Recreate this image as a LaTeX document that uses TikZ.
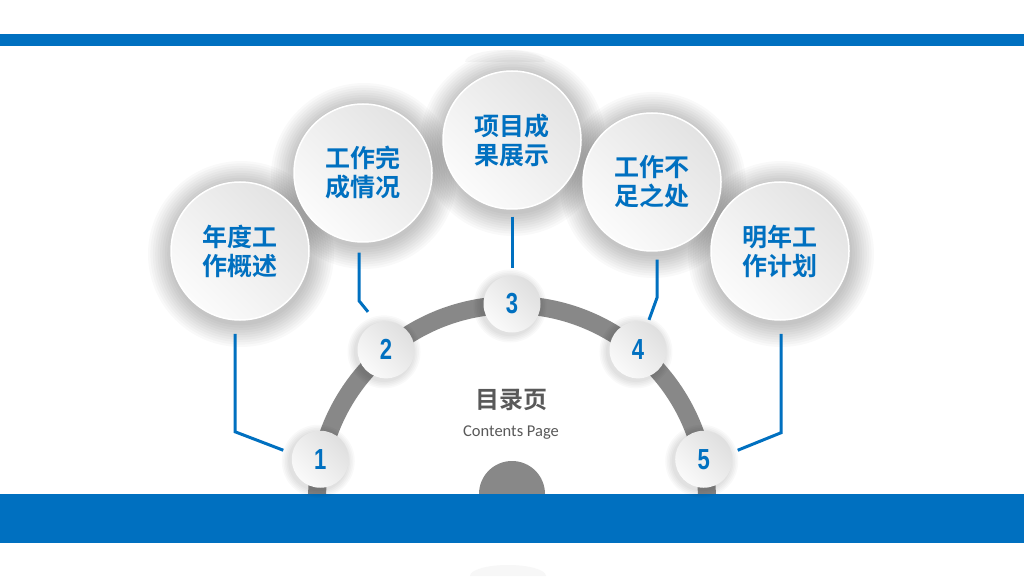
\documentclass[tikz,border=0pt]{standalone}
\usepackage{fontspec}
\setsansfont{Carlito}
\newfontfamily\cjk{Noto Sans CJK SC}[BoldFont={Noto Sans CJK SC Bold}]
\newfontfamily\numfont{Liberation Sans}[FakeStretch=0.76]
\definecolor{tocblue}{RGB}{0,112,192}
\definecolor{arcgray}{RGB}{136,136,136}
\definecolor{titlegray}{RGB}{89,89,89}
\begin{document}
\begin{tikzpicture}[x=1pt,y=1pt,
        topic/.style={circle,minimum size=138pt,inner sep=0pt,draw=white,line width=1.5pt,
            top color=gray!22,bottom color=gray!3,shading angle=-45,
            text=tocblue,align=center,font=\cjk\bfseries\fontsize{25}{29}\selectfont},
        num/.style={circle,minimum size=57pt,inner sep=0pt,
            top color=gray!25,bottom color=gray!4,shading angle=-45,
            text=tocblue,font=\numfont\bfseries\fontsize{29}{29}\selectfont},
        link/.style={draw=tocblue,line width=3pt},
        halo/.style={fill=black,opacity=0.022}]
    \useasboundingbox (0,0) rectangle (1024,576);
    \fill[white] (0,0) rectangle (1024,576);
    % faint marks behind the bars
    \fill[gray!6] (465,514) arc (180:0:40 and 12) -- cycle;
    \fill[gray!6] (470,0) arc (180:0:38 and 11) -- cycle;
    % half ring and the small dome
    \coordinate (O) at (512,76);
    \draw[arcgray,line width=18pt] ([shift={(184:195)}]O) arc (184:-4:195);
    \fill[arcgray] (479,82) arc (180:0:33) -- cycle;
    % blue bars
    \fill[tocblue] (0,530) rectangle (1024,542);
    \fill[tocblue] (0,33) rectangle (1024,82);
    % soft halos of the big balls
    \foreach \x/\y in {240/325,363/403,512/436,652/394,780/325}
        \foreach \k in {1,...,10}
            \fill[halo] (\x+1,\y-3) circle (69+2.4*\k);
    \node[topic] (t1) at (240,325) {年度工\\作概述};
    \node[topic] (t2) at (363,403) {工作完\\成情况};
    \node[topic] (t3) at (512,436) {项目成\\果展示};
    \node[topic] (t4) at (652,394) {工作不\\足之处};
    \node[topic] (t5) at (780,325) {明年工\\作计划};
    % small numbered balls on the ring
    \foreach \a in {168,130,90,50,12}
        \foreach \k in {1,...,5}
            \fill[halo] ([shift={(\a:196)}]O) ++(-2,-2) circle (28.5+1.6*\k);
    \node[num] (n1) at ([shift={(168:196)}]O) {1};
    \node[num] (n2) at ([shift={(130:196)}]O) {2};
    \node[num] (n3) at ([shift={(90:196)}]O) {3};
    \node[num] (n4) at ([shift={(50:196)}]O) {4};
    \node[num] (n5) at ([shift={(12:196)}]O) {5};
    % connectors
    \draw[link] ([shift={(-5,-13)}]t1.south) -- ++(0,-98) -- ([shift={(-37,9)}]n1.center);
    \draw[link] ([shift={(-4,-10)}]t2.south) -- ++(0,-48) -- ([shift={(-18,38)}]n2.center);
    \draw[link] ([shift={(0,-7)}]t3.south) -- ([shift={(0,36)}]n3.center);
    \draw[link] ([shift={(5,-8)}]t4.south) -- ++(0,-38) -- ([shift={(11,30)}]n4.center);
    \draw[link] ([shift={(1,-13)}]t5.south) -- ++(0,-99) -- ([shift={(34,9)}]n5.center);
    % title
    \node[font=\cjk\bfseries\fontsize{24}{24}\selectfont,text=titlegray] (title) at (511,176) {目录页};
    \node[font=\sffamily\fontsize{16.5}{16.5}\selectfont,text=titlegray] (sub) at (511,143) {Contents Page};
\end{tikzpicture}
\end{document}
